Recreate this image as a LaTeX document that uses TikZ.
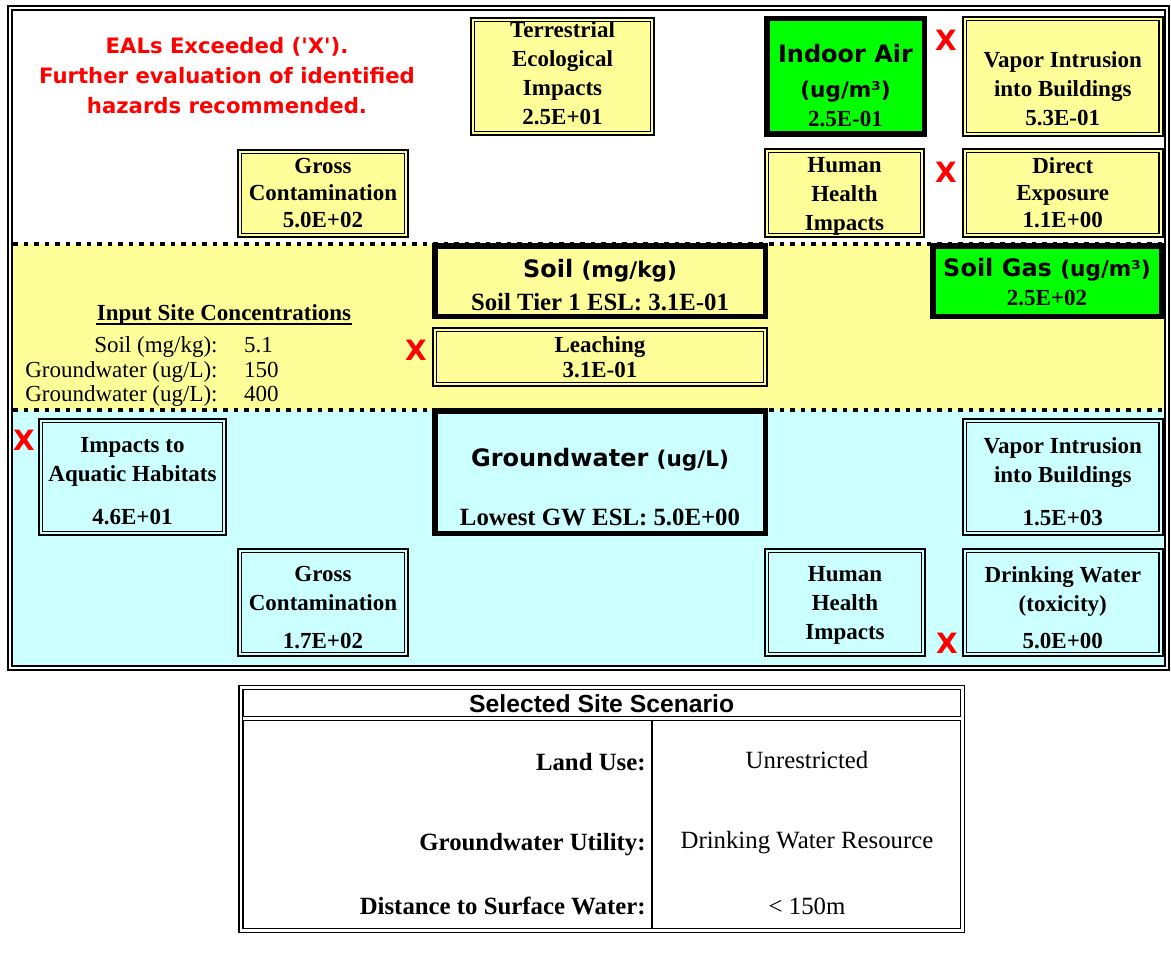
\documentclass[tikz,border=0pt]{standalone}
\usepackage{fontspec}
\setmainfont{Liberation Serif}
\newfontfamily\tahomafont{DejaVu Sans}
\newfontfamily\arialfont{Liberation Sans}
\definecolor{ealyellow}{HTML}{FFFF99}
\definecolor{ealcyan}{HTML}{CCFFFF}
\definecolor{ealgreen}{HTML}{00FF00}
\definecolor{ealred}{HTML}{FF0000}
\newcommand{\tahbig}{\tahomafont\bfseries\fontsize{12}{14.5}\selectfont}
\newcommand{\tahunit}{\tahomafont\bfseries\fontsize{10.8}{14.5}\selectfont}
\newcommand{\eslsize}{\fontsize{12.4}{14.5}\selectfont}
\tikzset{
	dbox/.style={draw,double=ealyellow,fill=ealyellow,line width=0.8pt,double distance=1.1pt,inner sep=0pt},
	dboxc/.style={dbox,double=ealcyan,fill=ealcyan},
	tbox/.style={draw,line width=2.75pt,inner sep=0pt},
	btxt/.style={align=center,anchor=north,inner sep=0pt,font=\fontsize{11.5}{14.5}\selectfont\bfseries},
	xmark/.style={text=ealred,inner sep=0pt,font=\tahomafont\bfseries\fontsize{14}{14}\selectfont},
	ctxt/.style={inner sep=0pt,font=\fontsize{11.5}{14}\selectfont},
	tlab/.style={inner sep=0pt,anchor=base east,font=\fontsize{12.4}{15}\selectfont\bfseries},
	tval/.style={inner sep=0pt,anchor=base,font=\fontsize{12.4}{15}\selectfont},
	dotline/.style={line width=2.3pt,dash pattern=on 2.3pt off 2.95pt}
}
\begin{document}
\begin{tikzpicture}[x=0.5pt,y=-0.5pt]
	\fill[white] (0,0) rectangle (1171,952);
	\useasboundingbox (0,0) rectangle (1171,952);
	% bands
	\fill[ealyellow] (12.9,244) rectangle (1164.1,410);
	\fill[ealcyan] (12.9,410) rectangle (1164.1,664.9);
	\draw[dotline] (13,244)--(1164,244);
	\draw[dotline] (13,410)--(1164,410);
	\draw[double,line width=0.9pt,double distance=1.1pt] (10,8.4) rectangle (1167,667.8);
	% boxes above ground
	\node[dbox,minimum width=89.8pt,minimum height=56.8pt] (terr) at (562.5,76.5) {};
	\node[tbox,fill=ealgreen,minimum width=78.75pt,minimum height=57.75pt] (indoor) at (845.5,76.5) {};
	\node[dbox,minimum width=98.05pt,minimum height=57.8pt] (vapA) at (1062.75,76.5) {};
	\node[dbox,minimum width=83.3pt,minimum height=41.8pt] (grossA) at (323,193.5) {};
	\node[dbox,minimum width=77.8pt,minimum height=42.3pt] (humA) at (844.5,193) {};
	\node[dbox,minimum width=98.05pt,minimum height=42.3pt] (direct) at (1062.75,193) {};
	% soil band
	\node[tbox,fill=ealyellow,minimum width=165.25pt,minimum height=35.25pt] (soil) at (600,281) {};
	\node[tbox,fill=ealgreen,minimum width=114.25pt,minimum height=35.25pt] (soilgas) at (1047,281) {};
	\node[dbox,minimum width=165.3pt,minimum height=27.3pt] (leach) at (600,357) {};
	% groundwater band
	\node[tbox,fill=ealcyan,minimum width=165.25pt,minimum height=61.25pt] (gw) at (600,472) {};
	\node[dboxc,minimum width=91.8pt,minimum height=56.3pt] (aqua) at (132.5,477) {};
	\node[dboxc,minimum width=98.05pt,minimum height=56.3pt] (vapB) at (1062.75,477) {};
	\node[dboxc,minimum width=83.3pt,minimum height=51.8pt] (grossB) at (323,602.5) {};
	\node[dboxc,minimum width=78.3pt,minimum height=51.8pt] (humB) at (845,602.5) {};
	\node[dboxc,minimum width=98.05pt,minimum height=51.8pt] (drink) at (1062.75,602.5) {};
	% box texts
	\node[btxt] (terrT) at (terr.center |- 0,21.2) {Terrestrial\\Ecological\\Impacts\\2.5E+01};
	\node[btxt] (indoorT) at (indoor.center |- 0,43.8) {{\tahbig Indoor Air}\\[2.85pt]{\tahunit (ug/m³)}\\2.5E-01};
	\node[btxt] (vapAT) at (vapA.center |- 0,51.5) {Vapor Intrusion\\into Buildings\\5.3E-01};
	\node[btxt] (grossAT) at (grossA.center |- 0,157.5) {Gross\\[-1pt]Contamination\\[-1pt]5.0E+02};
	\node[btxt] (humAT) at (humA.center |- 0,157.5) {Human\\Health\\Impacts};
	\node[btxt] (directT) at (direct.center |- 0,157.5) {Direct\\[-1pt]Exposure\\[-1pt]1.1E+00};
	\node[btxt] (soilT) at (soil.center |- 0,258.8) {{\tahbig Soil }{\tahunit (mg/kg)}\\[2pt]{\eslsize Soil Tier 1 ESL: 3.1E-01}};
	\node[btxt] (soilgasT) at (soilgas.center |- 0,258) {{\tahbig Soil Gas }{\tahunit (ug/m³)}\\2.5E+02};
	\node[btxt] (leachT) at (leach.center |- 0,336.5) {Leaching\\[-2pt]3.1E-01};
	\node[btxt] (gwT) at (gw.center |- 0,447.8) {{\tahbig Groundwater }{\tahunit (ug/L)}\\[15pt]{\eslsize Lowest GW ESL: 5.0E+00}};
	\node[btxt] (aquaT) at (aqua.center |- 0,437.5) {Impacts to\\Aquatic Habitats\\[7pt]4.6E+01};
	\node[btxt] (vapBT) at (vapB.center |- 0,437.5) {Vapor Intrusion\\into Buildings\\[7pt]1.5E+03};
	\node[btxt] (grossBT) at (grossB.center |- 0,566.2) {Gross\\Contamination\\[4.2pt]1.7E+02};
	\node[btxt] (humBT) at (humB.center |- 0,566.5) {Human\\Health\\Impacts};
	\node[btxt] (drinkT) at (drink.center |- 0,566.5) {Drinking Water\\(toxicity)\\[4pt]5.0E+00};
	% warning and exceedance marks
	\node[align=center,anchor=north,inner sep=0pt,text=ealred,font=\tahomafont\bfseries\fontsize{10.6}{15}\selectfont] (eal) at (227,36.9) {EALs Exceeded (\textquotesingle X\textquotesingle).\\Further evaluation of identified\\hazards recommended.};
	\foreach \p [count=\n] in {(946,40),(946,172),(416,350),(24,440),(947,643.5)}
		\node[xmark] (x\n) at \p {X};
	% input site concentrations
	\node[anchor=base,inner sep=0pt,font=\fontsize{11.5}{14}\selectfont\bfseries] (inputT) at (224,320) {Input Site Concentrations};
	\draw[line width=0.9pt] ([yshift=-2pt]inputT.base west)--([yshift=-2pt]inputT.base east);
	\foreach \lab/\val [count=\i] in {{Soil (mg/kg):}/5.1,{Groundwater (ug/L):}/150,{Groundwater (ug/L):}/400}{
		\node[ctxt,anchor=base east] (clab\i) at (218,328+24.5*\i) {\lab};
		\node[ctxt,anchor=base west] (cval\i) at (243.8,328+24.5*\i) {\val};
	}
	% selected site scenario
	\draw[double,line width=0.75pt,double distance=1.25pt] (241,687.5) rectangle (962.5,930.3);
	\draw[double,line width=0.75pt,double distance=1.25pt] (243,718.7)--(960.5,718.7);
	\draw[line width=0.75pt] (652,720.7)--(652,928.3);
	\node[anchor=base,inner sep=0pt,font=\arialfont\bfseries\fontsize{12.35}{14}\selectfont] (scen) at (601.7,712) {Selected Site Scenario};
	\foreach \lab/\yl/\val/\yv [count=\i] in {{Land Use:}/770/Unrestricted/768,{Groundwater Utility:}/850/{Drinking Water Resource}/848,{Distance to Surface Water:}/914/{< 150m}/914}{
		\node[tlab] (rowL\i) at (646,\yl) {\lab};
		\node[tval] (rowV\i) at (807,\yv) {\val};
	}
\end{tikzpicture}
\end{document}
